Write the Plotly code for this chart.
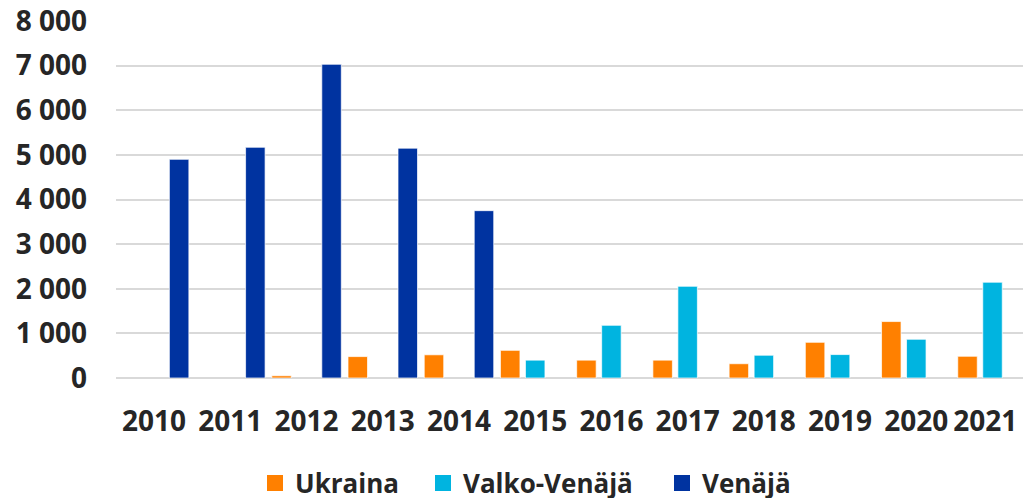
import plotly.graph_objects as go

years = ["2010", "2011", "2012", "2013", "2014", "2015", "2016", "2017", "2018", "2019", "2020", "2021"]
ukraina = [None, None, 50, 480, 520, 620, 400, 400, 320, 800, 1265, 487]
valko_venaja = [None, None, None, None, None, 400, 1180, 2055, 510, 525, 868, 2146]
venaja = [4900, 5170, 7030, 5150, 3750, None, None, None, None, None, None, None]

series_names = ["Ukraina", "Valko-Venäjä", "Venäjä"]
series_colors = ["#FF8000", "#00B4E0", "#0033A0"]

FONT = "Open Sans"
TXT = "#262626"
W, H = 1023, 498

fig = go.Figure()
for name, vals, col in zip(series_names, [ukraina, valko_venaja, venaja], series_colors):
    fig.add_trace(go.Bar(
        x=years, y=vals, name=name, showlegend=False,
        marker=dict(color=col, line=dict(color="rgba(255,255,255,0.7)", width=1)),
    ))

# one legend per series so each entry can sit where the reference has it
legend_ids = ["legend", "legend2", "legend3"]
legend_left_px = [255, 423, 662]
for name, col, lid in zip(series_names, series_colors, legend_ids):
    fig.add_trace(go.Scatter(
        x=[None], y=[None], mode="markers", name=name, legend=lid,
        marker=dict(symbol="square", size=17, color=col),
    ))

legend_style = dict(
    orientation="h", xref="container", xanchor="left",
    yref="container", y=1 - 483 / H, yanchor="middle",
    font=dict(family=FONT, size=26, color=TXT, weight="bold"),
    itemsizing="trace", itemwidth=30, bgcolor="rgba(0,0,0,0)",
)
legends = {lid: dict(legend_style, x=px / W) for lid, px in zip(legend_ids, legend_left_px)}

# keep the last tick label inside the figure edge (as in the reference)
tick_text = years[:-1] + [years[-1] + "\u00a0\u00a0"]

fig.update_layout(
    width=W, height=H,
    margin=dict(l=116, r=0, t=21, b=120),
    paper_bgcolor="white", plot_bgcolor="white",
    barmode="group", bargap=0.016, bargroupgap=0.22,
    separators=", ",
    font=dict(family=FONT, color=TXT, size=26),
    showlegend=True,
    xaxis=dict(
        type="category", range=[-0.5, 11.4], automargin=False,
        tickmode="array", tickvals=years, ticktext=tick_text, tickangle=0,
        showgrid=False, showline=False, ticks="",
        tickfont=dict(family=FONT, size=28, color=TXT, weight="bold"),
        ticklabelstandoff=24,
    ),
    yaxis=dict(
        range=[0, 8000], dtick=1000, tickformat=",d", automargin=False,
        showgrid=True, gridcolor="#D9D9D9", gridwidth=1.5,
        zeroline=True, zerolinecolor="#D9D9D9", zerolinewidth=1.5,
        showline=False, ticks="",
        tickfont=dict(family=FONT, size=28, color=TXT, weight="bold"),
        ticklabelstandoff=28,
    ),
    **legends,
)

fig.write_html(
    "out.html",
    config={"displayModeBar": False},
    post_script="document.body.style.margin='0';",
)
